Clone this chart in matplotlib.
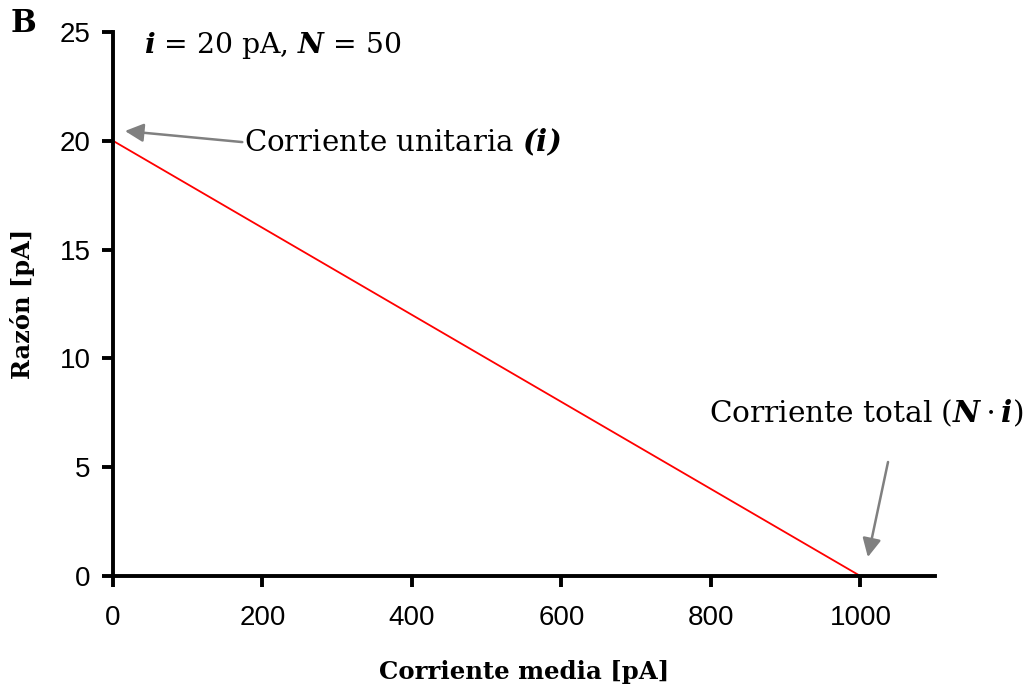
import matplotlib
matplotlib.use("Agg")
import matplotlib.pyplot as plt

corriente_media = [0, 100, 200, 300, 400, 500, 600, 700, 800, 900, 1000]
razon = [20, 18, 16, 14, 12, 10, 8, 6, 4, 2, 0]

xticks = [0, 200, 400, 600, 800, 1000]
yticks = [0, 5, 10, 15, 20, 25]

serif = "DejaVu Serif"
plt.rcParams["mathtext.fontset"] = "custom"
plt.rcParams["mathtext.rm"] = serif
plt.rcParams["mathtext.it"] = serif + ":italic"
plt.rcParams["mathtext.bf"] = serif + ":bold"
plt.rcParams["mathtext.bfit"] = serif + ":italic:bold"

fig = plt.figure(figsize=(10.31, 6.92), dpi=100)
ax = fig.add_axes([0.1096, 0.1676, 0.7974, 0.7862])

ax.plot(corriente_media, razon, color="red", lw=1.3)

ax.set_xlim(0, 1100)
ax.set_ylim(0, 25)
ax.set_xticks(xticks)
ax.set_yticks(yticks)
for s in ["top", "right"]:
    ax.spines[s].set_visible(False)
for s in ["left", "bottom"]:
    ax.spines[s].set_linewidth(2.8)
ax.tick_params(direction="out", length=8, width=2.8, labelsize=20,
               labelfontfamily="Liberation Sans")
ax.tick_params(axis="x", pad=13)
ax.tick_params(axis="y", pad=8)

ax.set_xlabel("Corriente media [pA]", family=serif, fontweight="bold",
              fontsize=17.6, labelpad=21)
ax.set_ylabel("Razón [pA]", family=serif, fontweight="bold",
              fontsize=17.4, labelpad=18)

fig.text(0.01, 0.966, "B", family=serif, fontweight="bold", fontsize=22,
         va="center", ha="left")
ax.text(0.038, 0.975, r"$\mathbfit{i}$ = 20 pA, $\mathbfit{N}$ = 50",
        transform=ax.transAxes, family=serif, fontsize=20.3, va="center", ha="left")

arrow = dict(arrowstyle="-|>", color="gray", lw=1.8, mutation_scale=28,
             shrinkA=0, shrinkB=0)
ax.annotate("", xy=(16, 20.45), xytext=(173, 19.94), arrowprops=arrow)
ax.text(175, 19.94, "Corriente unitaria $\\mathbfit{(i)}$", family=serif,
        fontsize=21.1, va="center", ha="left")

ax.annotate("", xy=(1010, 0.87), xytext=(1037, 5.24), arrowprops=arrow,
            annotation_clip=False)
fig.text(0.993, 0.403, r"Corriente total ($\mathbfit{N} \cdot \mathbfit{i}$)",
         family=serif, fontsize=21.3, va="center", ha="right")

fig.savefig("out.png", dpi=100)
